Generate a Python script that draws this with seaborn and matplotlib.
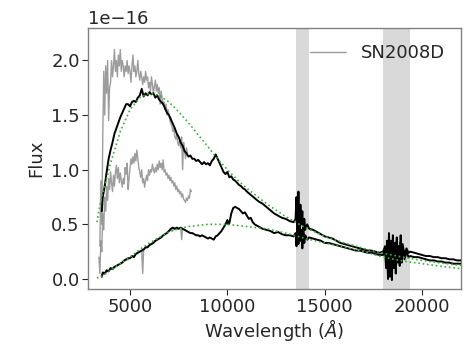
import matplotlib
matplotlib.use("Agg")
import matplotlib.pyplot as plt
import seaborn as sns
import numpy as np
from matplotlib.lines import Line2D

SCALE = 1e-16

# SN2008D spectra (grey), flux in units of 1e-16
sn_a_wl = [3450, 3500, 3550, 3600, 3650, 3700, 3750, 3800, 3850, 3900, 3950, 4000, 4050, 4100, 4150,
           4200, 4250, 4300, 4350, 4400, 4450, 4500, 4550, 4600, 4650, 4700, 4750, 4800, 4850, 4900,
           4950, 5000, 5050, 5100, 5150, 5200, 5250, 5300, 5350, 5400, 5450, 5500, 5550, 5600, 5650,
           5700, 5750, 5800, 5850, 5900, 5950, 6000, 6050, 6100, 6150, 6200, 6250, 6300, 6350, 6400,
           6450, 6500, 6550, 6600, 6650, 6700, 6750, 6800, 6850, 6900, 6950, 7000, 7050, 7100, 7150,
           7200, 7250, 7300, 7350, 7400, 7450, 7500, 7550, 7600, 7650, 7700, 7750, 7800, 7850, 7900, 7950]
sn_a_fx = [0.3, 0.9, 0.5, 1.3, 1.9, 1.5, 1.95, 1.7, 2.0, 1.45, 1.75, 1.8, 2.0, 1.85, 1.95,
           2.1, 1.9, 2.0, 1.85, 2.05, 1.95, 2.1, 1.9, 2.0, 1.95, 1.85, 1.95, 1.9, 2.0, 1.88,
           1.95, 1.9, 1.8, 1.95, 2.05, 1.9, 1.95, 1.85, 1.9, 2.0, 1.88, 1.82, 1.9, 1.85, 1.78,
           1.85, 1.8, 1.9, 1.82, 1.85, 1.75, 1.8, 1.72, 1.85, 1.78, 1.7, 1.76, 1.82, 1.72, 1.78,
           1.7, 1.75, 1.6, 1.72, 1.65, 1.6, 1.62, 1.55, 1.6, 1.5, 1.55, 1.5, 1.45, 1.42, 1.4,
           1.35, 1.38, 1.3, 1.28, 1.32, 1.25, 1.22, 1.28, 1.2, 1.3, 1.0, 1.25, 1.18, 1.1, 1.2, 1.15]

sn_b_wl = [3400, 3450, 3500, 3550, 3600, 3650, 3700, 3750, 3800, 3850, 3900, 3950, 4000, 4050, 4100,
           4150, 4200, 4250, 4300, 4350, 4400, 4450, 4500, 4550, 4600, 4650, 4700, 4750, 4800, 4850,
           4900, 4950, 5000, 5050, 5100, 5150, 5200, 5250, 5300, 5350, 5400, 5450, 5500, 5550, 5600,
           5650, 5700, 5750, 5800, 5850, 5900, 5950, 6000, 6050, 6100, 6150, 6200, 6250, 6300, 6350,
           6400, 6450, 6500, 6550, 6600, 6650, 6700, 6750, 6800, 6850, 6900, 6950, 7000, 7050, 7100,
           7150, 7200, 7250, 7300, 7350, 7400, 7450, 7500, 7550, 7600, 7650, 7700, 7750, 7800, 7850,
           7900, 7950, 8000, 8050, 8100, 8150]
sn_b_fx = [0.2, 0.05, 0.35, 0.25, 0.6, 0.45, 0.75, 0.62, 0.85, 0.72, 0.92, 0.82, 0.98, 0.88, 0.8,
           0.95, 0.85, 0.98, 1.04, 0.92, 1.02, 0.88, 0.97, 0.9, 0.84, 0.92, 0.87, 1.02, 0.96, 1.06,
           0.82, 0.92, 1.02, 1.1, 1.05, 1.12, 1.06, 1.15, 1.08, 1.18, 1.1, 1.02, 0.98, 0.93, 1.0,
           0.88, 0.92, 0.84, 0.9, 0.95, 0.9, 1.0, 0.95, 1.0, 0.98, 1.05, 1.0, 0.97, 1.02, 0.98,
           1.05, 1.0, 1.08, 1.02, 1.06, 1.0, 1.09, 0.98, 1.0, 0.95, 0.97, 0.92, 0.95, 0.9, 0.93,
           0.88, 0.9, 0.85, 0.88, 0.82, 0.85, 0.8, 0.82, 0.78, 0.8, 0.75, 0.78, 0.73, 0.72, 0.7,
           0.74, 0.72, 0.76, 0.74, 0.82, 0.8]

sn_c_wl = [3500, 3700, 4000, 4500, 5000, 5500, 5600, 5650, 5700, 6000, 6500, 7000, 7500, 7600, 7650, 7700, 8000]
sn_c_fx = [0.03, 0.05, 0.09, 0.14, 0.19, 0.25, 0.26, 0.05, 0.27, 0.31, 0.37, 0.44, 0.46, 0.47, 0.36, 0.46, 0.43]

# Model spectra (black)
up_wl = [3550, 3600, 3700, 3800, 3900, 4000, 4100, 4200, 4300, 4400, 4500, 4600, 4700, 4800, 4900,
         5000, 5100, 5200, 5300, 5400, 5500, 5600, 5700, 5800, 5900, 6000, 6100, 6200, 6300, 6400,
         6500, 6600, 6700, 6800, 6900, 7000, 7100, 7200, 7300, 7400, 7500, 7600, 7700, 7800, 7900,
         8000, 8100, 8200, 8300, 8400, 8500, 8600, 8700, 8800, 8900, 9000, 9100, 9200, 9300, 9400,
         9500, 9600, 9700, 9800, 9900, 10000, 10100, 10200, 10300, 10400, 10500, 10600, 10700, 10800,
         10900, 11000, 11200, 11400, 11600, 11800, 12000, 12200, 12400, 12600, 12800, 13000, 13200,
         13400, 13500, 13550, 13600, 13650, 13700, 13750, 13800, 13850, 13900, 13950, 14000, 14100,
         14200, 14400, 14600, 14800, 15000, 15200, 15400, 15600, 15800, 16000, 16200, 16400, 16600,
         16800, 17000, 17200, 17400, 17600, 17800, 18000, 18100, 18150, 18200, 18250, 18300, 18350,
         18400, 18450, 18500, 18550, 18600, 18650, 18700, 18750, 18800, 18850, 18900, 18950, 19000,
         19100, 19200, 19300, 19400, 19600, 19800, 20000, 20200, 20400, 20600, 20800, 21000, 21200,
         21400, 21600, 21800, 22000]
up_fx = [0.62, 0.75, 0.85, 0.98, 1.1, 1.18, 1.25, 1.33, 1.38, 1.43, 1.48, 1.52, 1.56, 1.6, 1.6,
         1.58, 1.62, 1.63, 1.62, 1.66, 1.68, 1.74, 1.67, 1.7, 1.68, 1.71, 1.69, 1.7, 1.66, 1.68,
         1.64, 1.62, 1.6, 1.56, 1.52, 1.5, 1.46, 1.42, 1.38, 1.33, 1.3, 1.25, 1.22, 1.17, 1.15,
         1.12, 1.13, 1.1, 1.1, 1.08, 1.09, 1.07, 1.05, 1.07, 1.05, 1.06, 1.04, 1.08, 1.1, 1.14,
         1.1, 1.06, 1.02, 0.98, 0.96, 0.98, 0.93, 0.94, 0.91, 0.9, 0.88, 0.86, 0.85, 0.83,
         0.82, 0.8, 0.77, 0.74, 0.71, 0.69, 0.66, 0.63, 0.6, 0.58, 0.56, 0.55, 0.53,
         0.52, 0.55, 0.75, 0.45, 0.8, 0.35, 0.68, 0.5, 0.62, 0.4, 0.55, 0.45, 0.5,
         0.46, 0.45, 0.43, 0.41, 0.39, 0.38, 0.37, 0.35, 0.33, 0.32, 0.31, 0.3, 0.29,
         0.28, 0.27, 0.26, 0.26, 0.25, 0.24, 0.25, 0.3, 0.15, 0.35, 0.05, 0.42, 0.02,
         0.35, 0.12, 0.4, 0.18, 0.3, 0.1, 0.38, 0.2, 0.3, 0.15, 0.4, 0.18, 0.32,
         0.22, 0.28, 0.24, 0.25, 0.24, 0.23, 0.22, 0.21, 0.21, 0.2, 0.2, 0.19, 0.19,
         0.18, 0.18, 0.17, 0.17]

lo_wl = [3550, 3600, 3700, 3800, 3900, 4000, 4100, 4200, 4300, 4400, 4500, 4600, 4700, 4800, 4900,
         5000, 5100, 5200, 5300, 5400, 5500, 5600, 5700, 5800, 5900, 6000, 6100, 6200, 6300, 6400,
         6500, 6600, 6700, 6800, 6900, 7000, 7100, 7200, 7300, 7400, 7500, 7600, 7700, 7800, 7900,
         8000, 8100, 8200, 8300, 8400, 8500, 8600, 8700, 8800, 8900, 9000, 9100, 9200, 9300, 9400,
         9500, 9600, 9700, 9800, 9900, 10000, 10050, 10100, 10200, 10300, 10400, 10500, 10600, 10700,
         10800, 10900, 11000, 11100, 11200, 11300, 11400, 11500, 11600, 11700, 11800, 12000, 12200,
         12400, 12600, 12800, 13000, 13200, 13400, 13500, 13550, 13600, 13650, 13700, 13750, 13800,
         13850, 13900, 13950, 14000, 14100, 14200, 14400, 14600, 14800, 15000, 15200, 15400, 15600,
         15800, 16000, 16200, 16400, 16600, 16800, 17000, 17200, 17400, 17600, 17800, 18000, 18100,
         18150, 18200, 18250, 18300, 18350, 18400, 18450, 18500, 18550, 18600, 18650, 18700, 18750,
         18800, 18850, 18900, 18950, 19000, 19100, 19200, 19300, 19400, 19600, 19800, 20000, 20200,
         20400, 20600, 20800, 21000, 21200, 21400, 21600, 21800, 22000]
lo_fx = [0.02, 0.06, 0.05, 0.08, 0.07, 0.1, 0.09, 0.11, 0.12, 0.13, 0.14, 0.15, 0.17, 0.18, 0.19,
         0.19, 0.21, 0.2, 0.23, 0.24, 0.25, 0.26, 0.27, 0.29, 0.29, 0.31, 0.32, 0.33, 0.35, 0.36,
         0.37, 0.38, 0.4, 0.41, 0.42, 0.44, 0.46, 0.47, 0.46, 0.47, 0.46, 0.47, 0.46, 0.45, 0.44,
         0.43, 0.42, 0.42, 0.41, 0.4, 0.4, 0.39, 0.4, 0.39, 0.38, 0.37, 0.38, 0.37, 0.36, 0.39,
         0.4, 0.42, 0.44, 0.47, 0.5, 0.54, 0.5, 0.51, 0.6, 0.65, 0.66, 0.65, 0.64, 0.62,
         0.6, 0.61, 0.58, 0.55, 0.56, 0.52, 0.5, 0.49, 0.48, 0.47, 0.46, 0.45, 0.44,
         0.42, 0.43, 0.41, 0.4, 0.4, 0.39, 0.42, 0.3, 0.48, 0.32, 0.5, 0.35, 0.45,
         0.28, 0.42, 0.33, 0.4, 0.36, 0.38, 0.37, 0.36, 0.35, 0.33, 0.33, 0.32, 0.31,
         0.3, 0.29, 0.28, 0.27, 0.26, 0.26, 0.25, 0.24, 0.24, 0.23, 0.22, 0.22, 0.28,
         0.1, 0.33, 0.0, 0.38, 0.08, 0.3, -0.01, 0.36, 0.1, 0.33, 0.05, 0.35, 0.15,
         0.3, 0.12, 0.34, 0.15, 0.28, 0.18, 0.25, 0.2, 0.21, 0.2, 0.2, 0.19, 0.18,
         0.17, 0.17, 0.16, 0.16, 0.15, 0.15, 0.14, 0.14, 0.14]

# Blackbody fits (green dotted)
bb1_wl = [3300, 3500, 4000, 4500, 5000, 5500, 6000, 6500, 7000, 7500, 8000, 8500, 9000, 9500, 10000,
          10500, 11000, 12000, 13000, 14000, 15000, 16000, 17000, 18000, 19000, 20000, 21000, 22000]
bb1_fx = [0.52, 0.72, 1.06, 1.35, 1.55, 1.66, 1.7, 1.68, 1.62, 1.53, 1.43, 1.32, 1.21, 1.1, 1.0,
          0.91, 0.83, 0.69, 0.57, 0.47, 0.39, 0.33, 0.28, 0.235, 0.2, 0.17, 0.145, 0.125]
bb2_wl = [3300, 3500, 4000, 4500, 5000, 5500, 6000, 6500, 7000, 7500, 8000, 8500, 9000, 9500, 10000,
          11000, 12000, 13000, 14000, 15000, 16000, 17000, 18000, 19000, 20000, 21000, 22000]
bb2_fx = [0.01, 0.02, 0.08, 0.14, 0.2, 0.27, 0.33, 0.38, 0.43, 0.46, 0.48, 0.49, 0.5, 0.5, 0.5,
          0.48, 0.46, 0.42, 0.37, 0.33, 0.29, 0.25, 0.2, 0.165, 0.14, 0.115, 0.095]

# Telluric bands
bands = [(13500, 14200), (18000, 19400)]

sns.set_style("ticks")
plt.rcParams['font.family'] = ['DejaVu Sans']

fig, ax = plt.subplots(figsize=(4.69, 3.46), dpi=100)
fig.subplots_adjust(left=0.188, right=0.983, bottom=0.164, top=0.92)

for lo, hi in bands:
    ax.axvspan(lo, hi, color='#d9d9d9', lw=0, zorder=0)

grey = '#8c8c8c'
for wl, fx in [(sn_a_wl, sn_a_fx), (sn_b_wl, sn_b_fx), (sn_c_wl, sn_c_fx)]:
    sns.lineplot(x=wl, y=np.array(fx) * SCALE, ax=ax, color=grey, lw=1.0, alpha=0.85,
                 estimator=None, sort=False, zorder=2)

for wl, fx in [(up_wl, up_fx), (lo_wl, lo_fx)]:
    sns.lineplot(x=wl, y=np.array(fx) * SCALE, ax=ax, color='black', lw=1.4,
                 estimator=None, sort=False, zorder=3)

for wl, fx in [(bb1_wl, bb1_fx), (bb2_wl, bb2_fx)]:
    sns.lineplot(x=wl, y=np.array(fx) * SCALE, ax=ax, color='#3cae3c', lw=1.2, ls=':',
                 estimator=None, sort=False, zorder=4)

ax.set_xlim(2850, 22000)
ax.set_ylim(-0.094e-16, 2.3e-16)
ax.set_xticks([5000, 10000, 15000, 20000])
ax.set_yticks(np.array([0.0, 0.5, 1.0, 1.5, 2.0]) * SCALE)

ax.set_xlabel(r'Wavelength ($\AA$)', fontsize=13, color='#262626', labelpad=1)
ax.set_ylabel('Flux', fontsize=13, color='#262626')
ax.tick_params(labelsize=13, colors='#262626', length=4, pad=2)
ax.yaxis.get_offset_text().set_fontsize(13)
for sp in ax.spines.values():
    sp.set_color('#808080')
    sp.set_linewidth(1.0)

handle = Line2D([], [], color=grey, lw=1.0, alpha=0.85)
ax.legend([handle], ['SN2008D'], loc='upper right', frameon=False, fontsize=13)

fig.savefig('out.png', dpi=100)
